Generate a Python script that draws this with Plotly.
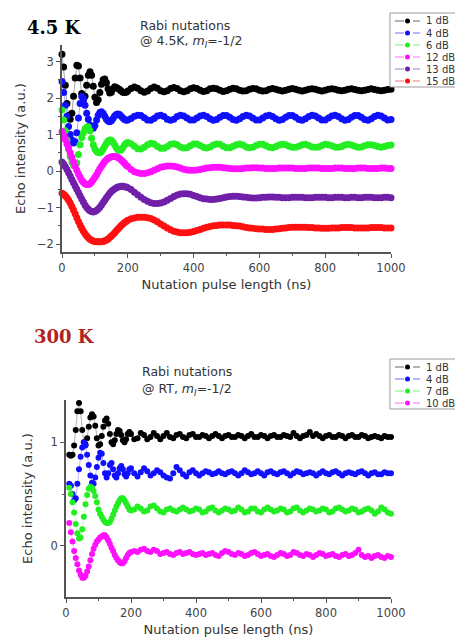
import plotly.graph_objects as go

W, H = 455, 637

# ---------------- Top panel (4.5 K) ----------------
T_NS = [0, 5, 10, 15, 20, 25, 30, 35, 40, 45, 50, 55, 60, 65, 70, 75, 80, 85, 90, 95,
        100, 105, 110, 115, 120, 125, 130, 135, 140, 145, 150, 155, 160, 165, 170, 175, 180, 185, 190, 195, 200,
        210, 220, 230, 240, 250, 260, 270, 280, 290, 300, 310, 320, 330, 340, 350, 360, 370, 380, 390, 400,
        410, 420, 430, 440, 450, 460, 470, 480, 490, 500, 510, 520, 530, 540, 550, 560, 570, 580, 590, 600,
        610, 620, 630, 640, 650, 660, 670, 680, 690, 700, 710, 720, 730, 740, 750, 760, 770, 780, 790, 800,
        810, 820, 830, 840, 850, 860, 870, 880, 890, 900, 910, 920, 930, 940, 950, 960, 970, 980, 990, 1000]

T_1dB = [3.20, 2.85, 2.35, 1.85, 1.52, 1.42, 1.58, 2.05, 2.55, 2.90, 2.88, 2.55, 2.12, 1.95, 2.05, 2.35, 2.62, 2.72, 2.62, 2.32,
         2.02, 1.88, 1.95, 2.15, 2.38, 2.50, 2.52, 2.42, 2.25, 2.14, 2.16, 2.25, 2.31, 2.29, 2.26, 2.23, 2.19, 2.16, 2.15, 2.16, 2.19,
         2.26, 2.30, 2.27, 2.20, 2.16, 2.19, 2.26, 2.30, 2.27, 2.20, 2.17, 2.20, 2.26, 2.29, 2.26, 2.20, 2.17, 2.20, 2.25, 2.28,
         2.26, 2.21, 2.18, 2.20, 2.25, 2.27, 2.25, 2.21, 2.18, 2.20, 2.24, 2.27, 2.25, 2.21, 2.19, 2.20, 2.24, 2.26, 2.25, 2.21,
         2.19, 2.20, 2.24, 2.26, 2.24, 2.21, 2.19, 2.21, 2.24, 2.26, 2.24, 2.21, 2.19, 2.21, 2.24, 2.25, 2.24, 2.21, 2.19, 2.21,
         2.24, 2.25, 2.24, 2.21, 2.20, 2.21, 2.24, 2.25, 2.23, 2.21, 2.20, 2.21, 2.23, 2.25, 2.23, 2.21, 2.20, 2.21, 2.23, 2.24]

T_4dB = [2.45, 2.15, 1.80, 1.50, 1.22, 1.00, 0.85, 0.77, 0.80, 1.05, 1.45, 1.85, 2.04, 1.98, 1.80, 1.58, 1.42, 1.26, 1.18, 1.17,
         1.25, 1.40, 1.53, 1.60, 1.62, 1.58, 1.50, 1.42, 1.37, 1.35, 1.38, 1.44, 1.51, 1.55, 1.56, 1.55, 1.50, 1.45, 1.41, 1.39, 1.40,
         1.44, 1.50, 1.53, 1.52, 1.46, 1.40, 1.39, 1.44, 1.51, 1.53, 1.49, 1.42, 1.39, 1.42, 1.49, 1.53, 1.51, 1.45, 1.40, 1.40,
         1.45, 1.51, 1.53, 1.49, 1.43, 1.39, 1.41, 1.47, 1.52, 1.52, 1.47, 1.41, 1.39, 1.43, 1.49, 1.53, 1.51, 1.45, 1.40, 1.40,
         1.45, 1.51, 1.53, 1.49, 1.43, 1.39, 1.41, 1.47, 1.52, 1.52, 1.47, 1.41, 1.39, 1.43, 1.49, 1.53, 1.51, 1.45, 1.40, 1.40,
         1.45, 1.51, 1.53, 1.49, 1.43, 1.39, 1.41, 1.47, 1.52, 1.52, 1.47, 1.41, 1.39, 1.43, 1.49, 1.53, 1.51, 1.45, 1.40, 1.41]

T_6dB = [1.67, 1.40, 1.10, 0.85, 0.60, 0.40, 0.25, 0.16, 0.15, 0.22, 0.45, 0.72, 0.92, 1.05, 1.15, 1.20, 1.21, 1.10, 0.90, 0.72,
         0.60, 0.54, 0.51, 0.50, 0.53, 0.60, 0.68, 0.76, 0.82, 0.85, 0.84, 0.79, 0.72, 0.64, 0.58, 0.56, 0.58, 0.64, 0.71, 0.76, 0.78,
         0.75, 0.68, 0.61, 0.60, 0.65, 0.72, 0.76, 0.74, 0.67, 0.62, 0.62, 0.67, 0.73, 0.75, 0.72, 0.66, 0.63, 0.64, 0.69, 0.74,
         0.74, 0.70, 0.65, 0.63, 0.66, 0.71, 0.74, 0.73, 0.68, 0.64, 0.64, 0.68, 0.72, 0.74, 0.71, 0.66, 0.64, 0.65, 0.70, 0.73,
         0.73, 0.69, 0.65, 0.64, 0.67, 0.71, 0.73, 0.72, 0.68, 0.65, 0.65, 0.68, 0.72, 0.73, 0.70, 0.66, 0.65, 0.66, 0.70, 0.73,
         0.72, 0.69, 0.66, 0.65, 0.67, 0.71, 0.73, 0.71, 0.68, 0.65, 0.66, 0.69, 0.72, 0.72, 0.70, 0.67, 0.65, 0.67, 0.70, 0.71]

T_12dB = [1.08, 0.98, 0.86, 0.74, 0.62, 0.50, 0.38, 0.25, 0.13, 0.02, -0.08, -0.17, -0.25, -0.31, -0.35, -0.37, -0.37, -0.35, -0.30, -0.24,
          -0.17, -0.10, -0.02, 0.06, 0.13, 0.20, 0.26, 0.31, 0.35, 0.37, 0.39, 0.40, 0.40, 0.39, 0.37, 0.34, 0.30, 0.26, 0.21, 0.16, 0.12,
          0.04, -0.02, -0.05, -0.07, -0.07, -0.05, -0.02, 0.02, 0.06, 0.10, 0.12, 0.14, 0.14, 0.13, 0.11, 0.08, 0.05, 0.03, 0.02, 0.02,
          0.03, 0.04, 0.06, 0.08, 0.09, 0.10, 0.10, 0.10, 0.09, 0.08, 0.07, 0.06, 0.06, 0.06, 0.07, 0.08, 0.08, 0.09, 0.09, 0.08,
          0.08, 0.07, 0.07, 0.07, 0.07, 0.08, 0.08, 0.08, 0.08, 0.08, 0.07, 0.07, 0.07, 0.07, 0.08, 0.08, 0.08, 0.08, 0.07, 0.07,
          0.07, 0.07, 0.08, 0.08, 0.08, 0.07, 0.07, 0.07, 0.07, 0.08, 0.08, 0.08, 0.07, 0.07, 0.07, 0.07, 0.08, 0.08, 0.07, 0.07]

T_13dB = [0.25, 0.19, 0.12, 0.04, -0.05, -0.14, -0.23, -0.32, -0.41, -0.50, -0.59, -0.68, -0.77, -0.85, -0.93, -1.00, -1.05, -1.09, -1.11, -1.12,
          -1.11, -1.08, -1.04, -0.99, -0.93, -0.86, -0.80, -0.73, -0.67, -0.61, -0.56, -0.52, -0.49, -0.46, -0.44, -0.43, -0.42, -0.42, -0.43, -0.44, -0.46,
          -0.51, -0.58, -0.65, -0.72, -0.78, -0.83, -0.87, -0.89, -0.89, -0.88, -0.85, -0.80, -0.75, -0.70, -0.66, -0.63, -0.62, -0.62, -0.64, -0.67,
          -0.70, -0.73, -0.76, -0.77, -0.78, -0.78, -0.77, -0.75, -0.73, -0.71, -0.70, -0.69, -0.69, -0.70, -0.71, -0.72, -0.73, -0.74, -0.74, -0.73,
          -0.72, -0.72, -0.71, -0.71, -0.72, -0.72, -0.73, -0.73, -0.73, -0.72, -0.72, -0.72, -0.72, -0.73, -0.73, -0.73, -0.72, -0.72, -0.72, -0.72,
          -0.73, -0.73, -0.72, -0.72, -0.72, -0.73, -0.73, -0.72, -0.72, -0.73, -0.73, -0.72, -0.72, -0.72, -0.73, -0.73, -0.73, -0.72, -0.72, -0.73]

T_15dB = [-0.61, -0.64, -0.68, -0.73, -0.80, -0.88, -0.97, -1.07, -1.17, -1.28, -1.38, -1.48, -1.57, -1.65, -1.72, -1.78, -1.83, -1.87, -1.90, -1.92,
          -1.93, -1.94, -1.94, -1.94, -1.94, -1.93, -1.91, -1.89, -1.86, -1.82, -1.78, -1.74, -1.69, -1.64, -1.59, -1.54, -1.49, -1.45, -1.41, -1.38, -1.35,
          -1.31, -1.29, -1.27, -1.27, -1.27, -1.28, -1.30, -1.34, -1.39, -1.45, -1.51, -1.56, -1.61, -1.65, -1.67, -1.69, -1.69, -1.69, -1.68, -1.66,
          -1.63, -1.60, -1.57, -1.54, -1.52, -1.50, -1.49, -1.48, -1.48, -1.48, -1.48, -1.49, -1.50, -1.51, -1.53, -1.55, -1.56, -1.57, -1.58, -1.59,
          -1.59, -1.60, -1.60, -1.60, -1.59, -1.58, -1.57, -1.56, -1.55, -1.54, -1.54, -1.54, -1.54, -1.54, -1.55, -1.55, -1.56, -1.56, -1.57, -1.57,
          -1.57, -1.56, -1.56, -1.56, -1.55, -1.55, -1.55, -1.55, -1.56, -1.56, -1.56, -1.56, -1.56, -1.55, -1.55, -1.55, -1.55, -1.56, -1.56, -1.56]

TOP_NAMES = ["1 dB", "4 dB", "6 dB", "12 dB", "13 dB", "15 dB"]
TOP_SERIES = [T_1dB, T_4dB, T_6dB, T_12dB, T_13dB, T_15dB]
TOP_COLORS = ["#000000", "#1010ff", "#22ee22", "#ff10ff", "#7020a8", "#ff1010"]
TOP_LINE = ["rgba(0,0,0,0.35)", "rgba(16,16,255,0.35)", "rgba(34,238,34,0.35)",
            "rgba(255,16,255,0.35)", "rgba(112,32,168,0.35)", "rgba(255,16,16,0.35)"]

# ---------------- Bottom panel (300 K) ----------------
B_NS = [10, 15, 20, 25, 30, 35, 40, 45, 50, 55, 60, 65, 70, 75, 80, 85, 90, 95,
        100, 105, 110, 115, 120, 125, 130, 135, 140, 145, 150, 155, 160, 165, 170, 175, 180, 185, 190, 195, 200,
        210, 220, 230, 240, 250, 260, 270, 280, 290, 300, 310, 320, 330, 340, 350, 360, 370, 380, 390, 400,
        410, 420, 430, 440, 450, 460, 470, 480, 490, 500, 510, 520, 530, 540, 550, 560, 570, 580, 590, 600,
        610, 620, 630, 640, 650, 660, 670, 680, 690, 700, 710, 720, 730, 740, 750, 760, 770, 780, 790, 800,
        810, 820, 830, 840, 850, 860, 870, 880, 890, 900, 910, 920, 930, 940, 950, 960, 970, 980, 990, 1000]

B_1dB = [0.88, 0.87, 0.88, 0.97, 1.12, 1.30, 1.38, 1.30, 1.12, 1.00, 0.98, 1.04, 1.15, 1.24, 1.27, 1.25, 1.16, 1.04,
         0.97, 0.98, 1.06, 1.15, 1.21, 1.23, 1.18, 1.08, 1.00, 0.98, 1.02, 1.08, 1.12, 1.11, 1.07, 1.02, 1.00, 1.03, 1.08, 1.10, 1.08,
         1.03, 1.04, 1.09, 1.07, 1.03, 1.05, 1.09, 1.06, 1.03, 1.06, 1.09, 1.05, 1.04, 1.07, 1.08, 1.05, 1.04, 1.07, 1.08, 1.05,
         1.05, 1.07, 1.06, 1.04, 1.06, 1.08, 1.06, 1.04, 1.06, 1.07, 1.05, 1.05, 1.07, 1.06, 1.04, 1.06, 1.08, 1.05, 1.05, 1.07,
         1.06, 1.04, 1.06, 1.07, 1.05, 1.05, 1.07, 1.06, 1.05, 1.09, 1.06, 1.04, 1.06, 1.07, 1.10, 1.06, 1.08, 1.06, 1.04, 1.06,
         1.07, 1.05, 1.05, 1.07, 1.06, 1.04, 1.06, 1.07, 1.05, 1.05, 1.07, 1.06, 1.04, 1.05, 1.06, 1.05, 1.04, 1.06, 1.05, 1.05]

B_4dB = [0.60, 0.58, 0.50, 0.44, 0.46, 0.60, 0.74, 0.86, 0.95, 1.00, 0.97, 0.88, 0.78, 0.68, 0.61, 0.60, 0.66, 0.76,
         0.85, 0.90, 0.89, 0.80, 0.70, 0.66, 0.70, 0.78, 0.80, 0.74, 0.68, 0.66, 0.70, 0.75, 0.77, 0.74, 0.69, 0.67, 0.70, 0.74, 0.75,
         0.70, 0.67, 0.71, 0.75, 0.72, 0.68, 0.70, 0.73, 0.71, 0.68, 0.66, 0.65, 0.70, 0.76, 0.73, 0.69, 0.67, 0.71, 0.73, 0.70,
         0.68, 0.70, 0.72, 0.71, 0.69, 0.70, 0.72, 0.70, 0.69, 0.71, 0.72, 0.70, 0.68, 0.70, 0.73, 0.71, 0.69, 0.70, 0.72, 0.70,
         0.68, 0.71, 0.72, 0.70, 0.69, 0.71, 0.72, 0.70, 0.68, 0.70, 0.72, 0.71, 0.69, 0.70, 0.71, 0.70, 0.68, 0.70, 0.72, 0.70,
         0.69, 0.71, 0.72, 0.70, 0.68, 0.70, 0.71, 0.70, 0.69, 0.71, 0.72, 0.70, 0.68, 0.70, 0.71, 0.69, 0.69, 0.71, 0.70, 0.70]

B_7dB = [0.56, 0.50, 0.42, 0.32, 0.21, 0.12, 0.07, 0.08, 0.16, 0.28, 0.40, 0.49, 0.55, 0.57, 0.56, 0.53, 0.48, 0.42,
         0.35, 0.31, 0.28, 0.25, 0.23, 0.22, 0.22, 0.23, 0.26, 0.30, 0.34, 0.38, 0.41, 0.44, 0.46, 0.46, 0.44, 0.41, 0.38, 0.35, 0.34,
         0.35, 0.38, 0.36, 0.33, 0.34, 0.38, 0.39, 0.36, 0.33, 0.32, 0.35, 0.36, 0.34, 0.33, 0.35, 0.37, 0.35, 0.33, 0.34, 0.36,
         0.35, 0.32, 0.33, 0.36, 0.37, 0.34, 0.32, 0.34, 0.36, 0.35, 0.33, 0.34, 0.37, 0.35, 0.32, 0.33, 0.36, 0.36, 0.33, 0.32,
         0.35, 0.37, 0.35, 0.33, 0.34, 0.36, 0.35, 0.32, 0.33, 0.36, 0.37, 0.34, 0.32, 0.34, 0.36, 0.35, 0.33, 0.34, 0.36, 0.35,
         0.32, 0.33, 0.36, 0.37, 0.35, 0.33, 0.34, 0.36, 0.35, 0.32, 0.33, 0.35, 0.36, 0.34, 0.31, 0.33, 0.37, 0.35, 0.32, 0.31]

B_10dB = [0.22, 0.13, 0.04, -0.05, -0.12, -0.18, -0.24, -0.28, -0.31, -0.31, -0.29, -0.25, -0.20, -0.14, -0.08, -0.03, 0.01, 0.04,
          0.06, 0.08, 0.09, 0.10, 0.10, 0.08, 0.05, 0.02, -0.02, -0.05, -0.09, -0.12, -0.14, -0.16, -0.17, -0.17, -0.15, -0.12, -0.09, -0.07, -0.06,
          -0.05, -0.06, -0.04, -0.03, -0.05, -0.06, -0.04, -0.05, -0.08, -0.07, -0.06, -0.08, -0.09, -0.07, -0.06, -0.08, -0.07, -0.06, -0.08, -0.09,
          -0.08, -0.07, -0.09, -0.08, -0.07, -0.09, -0.10, -0.07, -0.05, -0.06, -0.08, -0.09, -0.07, -0.08, -0.10, -0.09, -0.07, -0.06, -0.08, -0.10,
          -0.09, -0.08, -0.10, -0.11, -0.09, -0.07, -0.08, -0.10, -0.09, -0.06, -0.07, -0.09, -0.10, -0.08, -0.09, -0.11, -0.09, -0.07, -0.08, -0.10,
          -0.09, -0.08, -0.10, -0.11, -0.09, -0.08, -0.10, -0.09, -0.07, -0.04, -0.09, -0.11, -0.10, -0.12, -0.10, -0.09, -0.11, -0.12, -0.10, -0.11]

BOT_NAMES = ["1 dB", "4 dB", "7 dB", "10 dB"]
BOT_SERIES = [B_1dB, B_4dB, B_7dB, B_10dB]
BOT_COLORS = ["#000000", "#1010ff", "#22ee22", "#ff10ff"]
BOT_LINE = ["rgba(0,0,0,0.3)", "rgba(16,16,255,0.3)", "rgba(34,238,34,0.3)", "rgba(255,16,255,0.3)"]

for s in TOP_SERIES:
    assert len(s) == len(T_NS), len(s)
for s in BOT_SERIES:
    assert len(s) == len(B_NS), len(s)

FONT = "DejaVu Sans"
TXT = "#333333"
AX = "#555555"

fig = go.Figure()

for name, ys, c, lc in zip(TOP_NAMES, TOP_SERIES, TOP_COLORS, TOP_LINE):
    fig.add_trace(go.Scatter(x=T_NS, y=ys, name=name, mode="lines+markers",
                             marker=dict(size=7, color=c, line=dict(width=0)),
                             line=dict(color=lc, width=1), cliponaxis=False,
                             xaxis="x", yaxis="y", showlegend=False))

for name, ys, c, lc in zip(BOT_NAMES, BOT_SERIES, BOT_COLORS, BOT_LINE):
    fig.add_trace(go.Scatter(x=B_NS, y=ys, name=name, mode="lines+markers",
                             marker=dict(size=6, color=c, line=dict(width=0)),
                             line=dict(color=lc, width=1), cliponaxis=False,
                             xaxis="x2", yaxis="y2", showlegend=False))

def xax(domain, anchor):
    return dict(domain=domain, anchor=anchor, range=[0, 1000], dtick=200, tick0=0,
                automargin=False,
                showline=True, linecolor=AX, linewidth=1.5, mirror=False,
                ticks="outside", ticklen=4, tickwidth=1.2, tickcolor=AX,
                minor=dict(dtick=100, ticks="outside", ticklen=2.5, tickwidth=1, tickcolor=AX),
                showgrid=False, zeroline=False,
                tickfont=dict(family=FONT, size=11.5, color="#444"),
                title=dict(text="Nutation pulse length (ns)", standoff=6,
                           font=dict(family=FONT, size=13, color=TXT)))

def yax(domain, anchor, rng, standoff):
    return dict(domain=domain, anchor=anchor, range=rng, dtick=1, tick0=0,
                automargin=False,
                showline=True, linecolor=AX, linewidth=1.5, mirror=False,
                ticks="outside", ticklen=4, tickwidth=1.2, tickcolor=AX,
                minor=dict(dtick=0.5, ticks="outside", ticklen=2.5, tickwidth=1, tickcolor=AX),
                showgrid=False, zeroline=False,
                tickfont=dict(family=FONT, size=11.5, color="#444"),
                title=dict(text="Echo intensity (a.u.)", standoff=standoff,
                           font=dict(family=FONT, size=13, color=TXT)))

fig.update_layout(
    width=W, height=H,
    margin=dict(l=0, r=0, t=0, b=0, autoexpand=False),
    paper_bgcolor="white", plot_bgcolor="white",
    showlegend=False,
    xaxis=xax([62 / W, 391 / W], "y"),
    yaxis=yax([1 - 252 / H, 1 - 45 / H], "x", [-2.219, 3.452], 8),
    xaxis2=xax([66 / W, 391 / W], "y2"),
    yaxis2=yax([1 - 597 / H, 1 - 400 / H], "x2", [-0.496, 1.409], 15),
)

# Panel labels
fig.add_annotation(xref="paper", yref="paper", x=25 / W, y=1 - 27.5 / H, text="<b>4.5 K</b>",
                   showarrow=False, xanchor="left", yanchor="middle",
                   font=dict(family="DejaVu Serif", size=18, color="#000000"))
fig.add_annotation(xref="paper", yref="paper", x=32 / W, y=1 - 336 / H, text="<b>300 K</b>",
                   showarrow=False, xanchor="left", yanchor="middle",
                   font=dict(family="DejaVu Serif", size=18, color="#b22222"))

# In-plot descriptions
fig.add_annotation(xref="paper", yref="paper", x=138 / W, y=1 - 25 / H, text="Rabi nutations",
                   showarrow=False, xanchor="left", yanchor="middle", align="left",
                   font=dict(family=FONT, size=12.5, color=TXT))
fig.add_annotation(xref="paper", yref="paper", x=138 / W, y=1 - 42 / H,
                   text="@ 4.5K, <i>m</i><sub><i>I</i></sub>=-1/2",
                   showarrow=False, xanchor="left", yanchor="middle", align="left",
                   font=dict(family=FONT, size=12.5, color=TXT))
fig.add_annotation(xref="paper", yref="paper", x=140 / W, y=1 - 371 / H, text="Rabi nutations",
                   showarrow=False, xanchor="left", yanchor="middle", align="left",
                   font=dict(family=FONT, size=12.5, color=TXT))
fig.add_annotation(xref="paper", yref="paper", x=140 / W, y=1 - 389 / H,
                   text="@ RT, <i>m</i><sub><i>I</i></sub>=-1/2",
                   showarrow=False, xanchor="left", yanchor="middle", align="left",
                   font=dict(family=FONT, size=12.5, color=TXT))

# Legend boxes (Origin style)
def add_legend(names, colors, lcolors, top_px, bot_px, first_px):
    fig.add_shape(type="rect", xref="paper", yref="paper", x0=390 / W, x1=1.01,
                  y0=1 - bot_px / H, y1=1 - top_px / H,
                  line=dict(color="#999999", width=1), fillcolor="white", layer="above")
    for i, (n, c, lc) in enumerate(zip(names, colors, lcolors)):
        yc = 1 - (first_px + 12 * i) / H
        fig.add_shape(type="line", xref="paper", yref="paper", x0=395 / W, x1=420 / W,
                      y0=yc, y1=yc, line=dict(color=lc.replace("0.35", "0.6").replace("0.3)", "0.6)"), width=1, dash="dash"),
                      layer="above")
        fig.add_shape(type="circle", xref="paper", yref="paper", xsizemode="pixel", ysizemode="pixel",
                      xanchor=407.5 / W, yanchor=yc, x0=-2.5, x1=2.5, y0=-2.5, y1=2.5,
                      fillcolor=c, line=dict(width=0), layer="above")
        fig.add_annotation(xref="paper", yref="paper", x=424 / W, y=yc, text=n, showarrow=False,
                           xanchor="left", yanchor="middle",
                           font=dict(family=FONT, size=10, color=TXT))

add_legend(TOP_NAMES, TOP_COLORS, TOP_LINE, 13, 87, 21)
add_legend(BOT_NAMES, BOT_COLORS, BOT_LINE, 359, 409, 367)

fig.write_html("out.html", config={"displayModeBar": False},
               post_script="document.body.style.margin='0';")
